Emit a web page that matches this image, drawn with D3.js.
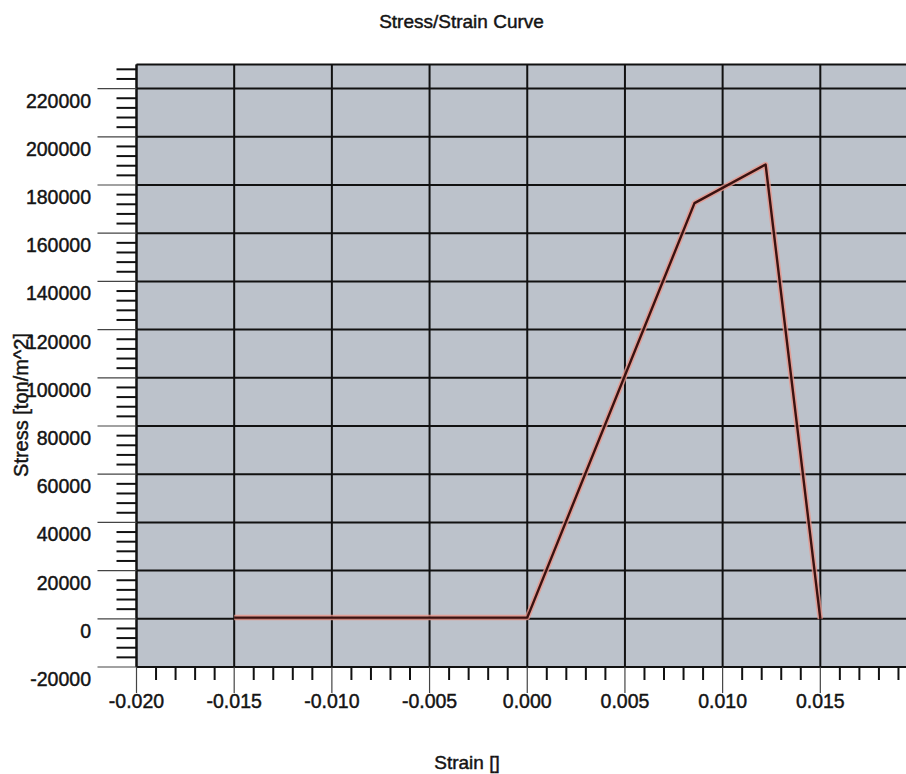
<!DOCTYPE html>
<html>
<head>
<meta charset="utf-8">
<script src="https://cdn.jsdelivr.net/npm/d3@7"></script>
<style>
  html, body { margin: 0; padding: 0; background: #ffffff; }
  svg { display: block; }
  text { font-family: "Liberation Sans", Arial, Helvetica, sans-serif; fill: #141414; stroke: #141414; stroke-width: 0.45px; }
</style>
</head>
<body>
<svg id="chart" width="906" height="774"></svg>
<script>
// ---- Data ----
const strain = [-0.015, 0.000, 0.00856, 0.0122, 0.0150];
const stress = [500, 500, 172500, 188500, 0];

const xTickValues = [-0.020, -0.015, -0.010, -0.005, 0.000, 0.005, 0.010, 0.015];
const xTickLabels = ["-0.020", "-0.015", "-0.010", "-0.005", "0.000", "0.005", "0.010", "0.015"];
const yTickValues = [-20000, 0, 20000, 40000, 60000, 80000, 100000, 120000, 140000, 160000, 180000, 200000, 220000];
const yTickLabels = ["-20000", "0", "20000", "40000", "60000", "80000", "100000", "120000", "140000", "160000", "180000", "200000", "220000"];

const titleText = "Stress/Strain Curve";
const xTitle = "Strain []";
const yTitle = "Stress [ton/m^2]";

// ---- Layout ----
const svg = d3.select("#chart");
const pLeft = 136.5, pRight = 918, pTop = 64.5, pBottom = 667;

const x = d3.scaleLinear().domain([-0.02, 0.02]).range([pLeft, pRight]);
const y = d3.scaleLinear().domain([-20000, 230000]).range([pBottom, pTop]);

// plot background
svg.append("rect")
  .attr("x", pLeft).attr("y", pTop)
  .attr("width", pRight - pLeft).attr("height", pBottom - pTop)
  .attr("fill", "#bcc2cb");

// minor ticks
const xMinor = d3.range(-20, 20).map(i => i * 0.001).filter(v => !xTickValues.some(t => Math.abs(t - v) < 1e-9));
const yMinor = d3.range(-5, 58).map(i => i * 4000).filter(v => v <= 230000 && v % 20000 !== 0);

const grid = svg.append("g");
grid.selectAll("line.vx").data(xTickValues).join("line")
  .attr("x1", d => x(d)).attr("x2", d => x(d))
  .attr("y1", pTop).attr("y2", pBottom)
  .attr("stroke", "#111").attr("stroke-width", 2);
grid.selectAll("line.hy").data(yTickValues).join("line")
  .attr("x1", pLeft).attr("x2", pRight)
  .attr("y1", d => y(d)).attr("y2", d => y(d))
  .attr("stroke", "#111").attr("stroke-width", 2);
grid.append("line").attr("x1", pLeft).attr("x2", pRight).attr("y1", pTop).attr("y2", pTop)
  .attr("stroke", "#111").attr("stroke-width", 2);
grid.append("line").attr("x1", pLeft).attr("x2", pLeft).attr("y1", pTop).attr("y2", pBottom)
  .attr("stroke", "#111").attr("stroke-width", 2);
grid.append("line").attr("x1", pLeft).attr("x2", pRight).attr("y1", pBottom).attr("y2", pBottom)
  .attr("stroke", "#111").attr("stroke-width", 2);

// ---- Axes ----
svg.append("g").selectAll("line").data(xTickValues).join("line")
  .attr("x1", d => x(d)).attr("x2", d => x(d))
  .attr("y1", pBottom).attr("y2", pBottom + 26)
  .attr("stroke", "#444").attr("stroke-width", 1.2);
svg.append("g").selectAll("line").data(xMinor).join("line")
  .attr("x1", d => x(d)).attr("x2", d => x(d))
  .attr("y1", pBottom).attr("y2", pBottom + 13)
  .attr("stroke", "#111").attr("stroke-width", 2);
svg.append("g").selectAll("text").data(xTickValues).join("text")
  .attr("x", d => x(d)).attr("y", pBottom + 41)
  .attr("text-anchor", "middle")
  .attr("font-size", 19.5)
  .text((d, i) => xTickLabels[i]);

svg.append("g").selectAll("line").data(yTickValues).join("line")
  .attr("x1", pLeft - 39).attr("x2", pLeft)
  .attr("y1", d => y(d)).attr("y2", d => y(d))
  .attr("stroke", "#444").attr("stroke-width", 1.2);
svg.append("g").selectAll("line").data(yMinor).join("line")
  .attr("x1", pLeft - 20).attr("x2", pLeft)
  .attr("y1", d => y(d)).attr("y2", d => y(d))
  .attr("stroke", "#111").attr("stroke-width", 2);
svg.append("g").selectAll("text").data(yTickValues).join("text")
  .attr("x", 91).attr("y", d => y(d) + 19)
  .attr("text-anchor", "end")
  .attr("font-size", 19.5)
  .text((d, i) => yTickLabels[i]);

// ---- Curve ----
const pts = strain.map((s, i) => [s, stress[i]]);
const line = d3.line().x(d => x(d[0])).y(d => y(d[1]));
svg.append("path").datum(pts)
  .attr("d", line).attr("fill", "none")
  .attr("stroke", "#e8958a").attr("stroke-width", 5.5).attr("stroke-opacity", 0.8)
  .attr("stroke-linejoin", "round");
svg.append("path").datum(pts)
  .attr("d", line).attr("fill", "none")
  .attr("stroke", "#3a1210").attr("stroke-width", 2.4)
  .attr("stroke-linejoin", "round");

// ---- Titles ----
svg.append("text").attr("x", 461.5).attr("y", 28)
  .attr("text-anchor", "middle").attr("font-size", 19)
  .text(titleText);
svg.append("text").attr("x", 467).attr("y", 769)
  .attr("text-anchor", "middle").attr("font-size", 19)
  .text(xTitle);
svg.append("text")
  .attr("transform", "translate(27.5,405) rotate(-90)")
  .attr("text-anchor", "middle").attr("font-size", 20)
  .text(yTitle);
</script>
</body>
</html>
